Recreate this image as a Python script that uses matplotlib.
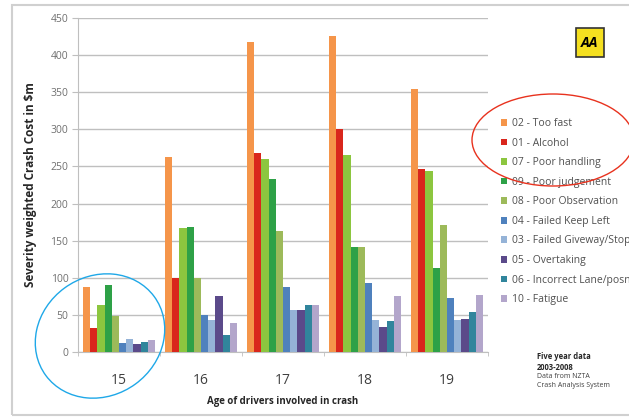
import matplotlib
matplotlib.use("Agg")
import matplotlib.pyplot as plt
import numpy as np
from matplotlib.patches import Rectangle, Ellipse

ages = ["15", "16", "17", "18", "19"]
series_names = ["02 - Too fast", "01 - Alcohol", "07 - Poor handling", "09 - Poor judgement",
                "08 - Poor Observation", "04 - Failed Keep Left", "03 - Failed Giveway/Stop",
                "05 - Overtaking", "06 - Incorrect Lane/posn", "10 - Fatigue"]
too_fast = [88, 263, 418, 426, 354]
alcohol = [33, 100, 268, 301, 247]
poor_handling = [63, 167, 260, 266, 244]
poor_judgement = [90, 168, 233, 142, 113]
poor_observation = [48, 100, 163, 142, 171]
failed_keep_left = [12, 50, 87, 93, 73]
failed_giveway = [17, 43, 56, 43, 43]
overtaking = [11, 75, 56, 34, 45]
incorrect_lane = [14, 23, 63, 42, 54]
fatigue = [16, 39, 63, 76, 77]
values = [too_fast, alcohol, poor_handling, poor_judgement, poor_observation,
          failed_keep_left, failed_giveway, overtaking, incorrect_lane, fatigue]
colors = ["#F5954A", "#D9261C", "#8CC63F", "#2EA147", "#9DBA5A",
          "#4F81BD", "#95B3D7", "#5B4A8A", "#31859C", "#B3A6CB"]

fig = plt.figure(figsize=(6.29, 4.17), dpi=100)
fig.patch.set_facecolor("white")
plt.rcParams['font.family'] = ['Open Sans', 'DejaVu Sans']

ax = fig.add_axes([78/629, 65/417, 410/629, 334/417])
x = np.arange(len(ages))
bw = 0.088
n = len(values)
for i, (vals, c) in enumerate(zip(values, colors)):
    ax.bar(x + (i - (n - 1) / 2) * bw, vals, width=bw, color=c, label=series_names[i],
           zorder=3, linewidth=0)

ax.set_xlim(-0.5, 4.5)
ax.set_ylim(0, 450)
ax.set_yticks(range(0, 451, 50))
ax.yaxis.grid(True, color="#BFBFBF", linewidth=1.0, zorder=0)
ax.set_xticks(x)
ax.set_xticklabels(ages, fontsize=10, color="#404040")
ax.set_xticks(np.arange(-0.5, 5, 1), minor=True)
ax.tick_params(axis="x", which="major", length=0, pad=15)
ax.tick_params(axis="x", which="minor", length=3, color="#BFBFBF")
ax.tick_params(axis="y", length=4, color="#BFBFBF", labelsize=7.5, labelcolor="#707070", pad=3)
for s in ["top", "right"]:
    ax.spines[s].set_visible(False)
ax.spines["left"].set_color("#BFBFBF")
ax.spines["bottom"].set_color("#BFBFBF")
ax.set_ylabel("Severity weighted Crash Cost in $m", fontsize=8.5, fontweight="bold",
              color="#262626", labelpad=10)
ax.set_xlabel("Age of drivers involved in crash", fontsize=7, fontweight="bold",
              color="#262626", labelpad=6)

leg = fig.legend(loc="upper left", bbox_to_anchor=(497/629, 1 - 114/417), frameon=False,
                 fontsize=7.5, handlelength=0.6, handleheight=0.6, handletextpad=0.4,
                 labelspacing=0.82, borderaxespad=0)
for t in leg.get_texts():
    t.set_color("#505050")

# Notes
fig.text(537/629, 1 - 362/417, "Five year data\n2003-2008", fontsize=5.5, fontweight="bold",
         color="#262626", va="center")
fig.text(537/629, 1 - 381/417, "Data from NZTA\nCrash Analysis System", fontsize=5,
         color="#404040", va="center", linespacing=1.4)

# AA logo
fig.patches.append(Rectangle((576/629, 1 - 57/417), 28/629, 29/417, transform=fig.transFigure,
                             facecolor="#F5E020", edgecolor="#333333", linewidth=1.2))
fig.text(590/629, 1 - 43/417, "AA", fontsize=10, fontweight="bold", style="italic",
         ha="center", va="center", color="black")

# Frame
fig.patches.append(Rectangle((12/629, 2/417), 640/629, 410/417, transform=fig.transFigure,
                             facecolor="none", edgecolor="#D0D0D0", linewidth=1.5))

# Hand-drawn annotations
fig.patches.append(Ellipse((553/629, 1 - 140/417), 162/629, 92/417, transform=fig.transFigure,
                           facecolor="none", edgecolor="#E8321E", linewidth=1.0, zorder=10))
fig.patches.append(Ellipse((100/629, 1 - 336/417), 128/629, 125/417, angle=-8,
                           transform=fig.transFigure, facecolor="none",
                           edgecolor="#1FA8E8", linewidth=1.0, zorder=10))

fig.savefig("out.png", dpi=100)
